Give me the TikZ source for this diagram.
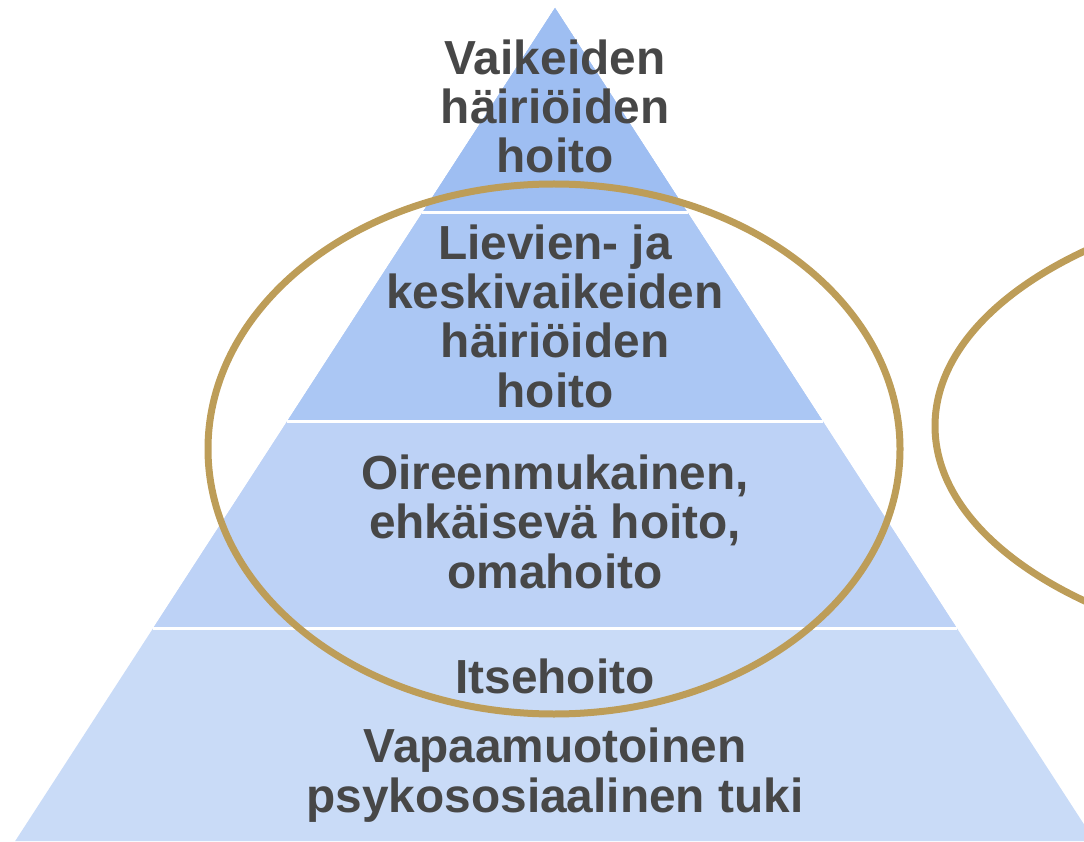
\documentclass[tikz,border=0pt]{standalone}
\usepackage{fontspec}
\setmainfont{Liberation Sans}
\usepackage{tikz}

\definecolor{tierA}{HTML}{9EBEF2}
\definecolor{tierB}{HTML}{ABC7F4}
\definecolor{tierC}{HTML}{BDD2F6}
\definecolor{tierD}{HTML}{C9DBF7}
\definecolor{ringgold}{HTML}{BD9D58}
\definecolor{txtgray}{HTML}{474747}

\begin{document}
\begin{tikzpicture}[
  lbl/.style={anchor=base, align=center, inner sep=0pt, text=txtgray,
    font=\fontsize{27.2}{28}\selectfont\bfseries},
  ring/.style={draw=ringgold, line width=0.14cm}
]
% Fix the page size and clip everything to it
\useasboundingbox (0, 0) rectangle (21.68, 16.82);
\clip (0, 0) rectangle (21.68, 16.82);
% Fill pyramid tiers, biggest first, each triangle from the apex
\foreach \h/\c in {16.66/tierD, 12.40/tierC, 8.28/tierB, 4.10/tierA}
  \fill[\c] (11.1, 16.66) -- ++(-0.648*\h, -\h) -- ++(1.296*\h, 0) -- cycle;
% White separator lines between tiers
\foreach \h in {12.40, 8.28, 4.10}
  \draw[white, line width=0.06cm] (11.1-0.648*\h, 16.66-\h) -- (11.1+0.648*\h, 16.66-\h);
% Tier texts (anchor base = baseline of the last line)
\node[lbl] (severe) at (11.1, 13.36) {Vaikeiden\\häiriöiden\\hoito};
\node[lbl] (mild) at (11.1, 8.68) {Lievien- ja\\keskivaikeiden\\häiriöiden\\hoito};
\node[lbl] (symptom) at (11.1, 5.06) {Oireenmukainen,\\ehkäisevä hoito,\\omahoito};
\node[lbl] (self) at (11.1, 2.96) {Itsehoito};
\node[lbl] (support) at (11.1, 0.58) {Vapaamuotoinen\\psykososiaalinen tuki};
% Gold ring around the middle tiers
\draw[ring] (11.08, 7.84) ellipse (6.92 and 5.3);
% Second ring cut off at the right edge
\draw[ring] (27.7, 8.3) ellipse (9 and 4.7);
\end{tikzpicture}
\end{document}
